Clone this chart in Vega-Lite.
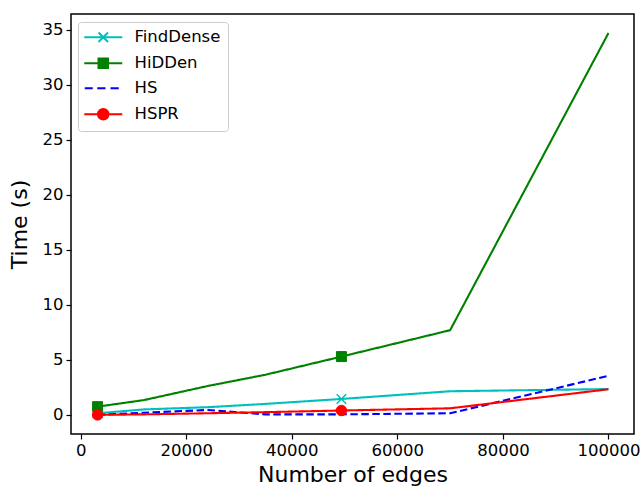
{
  "$schema": "https://vega.github.io/schema/vega-lite/v6.json",
  "width": 563,
  "height": 420,
  "autosize": "none",
  "padding": {"left": 71, "top": 14, "right": 10, "bottom": 55},
  "background": "white",
  "config": {
    "font": "DejaVu Sans",
    "view": {"stroke": "black", "strokeWidth": 1.5},
    "axis": {
      "domain": false,
      "grid": false,
      "ticks": true,
      "tickColor": "black",
      "tickSize": 5,
      "tickWidth": 1.2,
      "labelColor": "black",
      "labelFont": "DejaVu Sans",
      "labelFontSize": 16.5,
      "labelPadding": 3,
      "titleFont": "DejaVu Sans",
      "titleFontSize": 22,
      "titleFontWeight": "normal",
      "titleColor": "black"
    },
    "legend": {
      "orient": "none",
      "legendX": 7,
      "legendY": 8,
      "title": null,
      "labelFont": "DejaVu Sans",
      "labelFontSize": 16.5,
      "labelColor": "black",
      "labelOffset": 23,
      "symbolOffset": 10,
      "symbolSize": 100,
      "symbolStrokeWidth": 2,
      "symbolOpacity": 1,
      "fillColor": "white",
      "strokeColor": "#cccccc",
      "cornerRadius": 3,
      "padding": 7,
      "rowPadding": 8
    }
  },
  "datasets": {
    "times": [
      {"series": "FindDense", "edges": 3200, "time": 0.15},
      {"series": "FindDense", "edges": 12000, "time": 0.5},
      {"series": "FindDense", "edges": 24000, "time": 0.7},
      {"series": "FindDense", "edges": 35000, "time": 1.0},
      {"series": "FindDense", "edges": 49400, "time": 1.45},
      {"series": "FindDense", "edges": 70000, "time": 2.15},
      {"series": "FindDense", "edges": 100000, "time": 2.35},
      {"series": "HiDDen", "edges": 3200, "time": 0.75},
      {"series": "HiDDen", "edges": 12000, "time": 1.35},
      {"series": "HiDDen", "edges": 24000, "time": 2.62},
      {"series": "HiDDen", "edges": 35000, "time": 3.65},
      {"series": "HiDDen", "edges": 49400, "time": 5.3},
      {"series": "HiDDen", "edges": 70000, "time": 7.7},
      {"series": "HiDDen", "edges": 100000, "time": 34.7},
      {"series": "HS", "edges": 3200, "time": 0.0},
      {"series": "HS", "edges": 12000, "time": 0.2},
      {"series": "HS", "edges": 24000, "time": 0.45},
      {"series": "HS", "edges": 35000, "time": 0.05},
      {"series": "HS", "edges": 49400, "time": 0.05},
      {"series": "HS", "edges": 70000, "time": 0.15},
      {"series": "HS", "edges": 100000, "time": 3.55},
      {"series": "HSPR", "edges": 3200, "time": 0.0},
      {"series": "HSPR", "edges": 12000, "time": 0.05},
      {"series": "HSPR", "edges": 24000, "time": 0.15},
      {"series": "HSPR", "edges": 35000, "time": 0.25},
      {"series": "HSPR", "edges": 49400, "time": 0.4},
      {"series": "HSPR", "edges": 70000, "time": 0.6},
      {"series": "HSPR", "edges": 100000, "time": 2.33}
    ]
  },
  "data": {"name": "times"},
  "encoding": {
    "x": {
      "field": "edges",
      "type": "quantitative",
      "title": "Number of edges",
      "scale": {"domain": [-1840, 104840], "nice": false, "zero": false},
      "axis": {"values": [0, 20000, 40000, 60000, 80000, 100000], "format": "d", "titlePadding": 6}
    },
    "y": {
      "field": "time",
      "type": "quantitative",
      "title": "Time (s)",
      "scale": {"domain": [-1.735, 36.435], "nice": false, "zero": false},
      "axis": {"values": [0, 5, 10, 15, 20, 25, 30, 35], "titlePadding": 11}
    }
  },
  "resolve": {"scale": {"fill": "independent", "stroke": "independent"}, "legend": {"fill": "independent", "stroke": "independent", "shape": "independent"}},
  "layer": [
    {
      "mark": {"type": "line", "strokeWidth": 2.1, "strokeJoin": "round"},
      "encoding": {
        "color": {
          "field": "series",
          "type": "nominal",
          "scale": {"domain": ["FindDense", "HiDDen", "HS", "HSPR"], "range": ["#00bfbf", "#008000", "#0000ff", "#ff0000"]},
          "legend": null
        },
        "strokeDash": {
          "field": "series",
          "type": "nominal",
          "scale": {"domain": ["FindDense", "HiDDen", "HS", "HSPR"], "range": [[1, 0], [1, 0], [7.5, 3.5], [1, 0]]},
          "legend": null
        }
      }
    },
    {
      "transform": [{"filter": "datum.series == 'FindDense' && (datum.edges == 3200 || datum.edges == 49400)"}],
      "mark": {"type": "point", "shape": "M-1,-1L1,1M-1,1L1,-1", "size": 90, "strokeWidth": 1.6, "opacity": 1},
      "encoding": {
        "fill": {"field": "series", "type": "nominal", "scale": {"domain": ["FindDense", "HiDDen", "HS", "HSPR"], "range": ["#00bfbf", "#008000", "#0000ff", "#ff0000"]}, "legend": null},
        "stroke": {"field": "series", "type": "nominal", "scale": {"domain": ["FindDense", "HiDDen", "HS", "HSPR"], "range": ["#00bfbf", "#008000", "#0000ff", "#ff0000"]}, "legend": null}
      }
    },
    {
      "transform": [{"filter": "datum.series == 'HiDDen' && (datum.edges == 3200 || datum.edges == 49400)"}],
      "mark": {"type": "point", "shape": "square", "size": 100, "strokeWidth": 1, "opacity": 1},
      "encoding": {
        "fill": {"field": "series", "type": "nominal", "scale": {"domain": ["FindDense", "HiDDen", "HS", "HSPR"], "range": ["#00bfbf", "#008000", "#0000ff", "#ff0000"]}, "legend": null},
        "stroke": {"field": "series", "type": "nominal", "scale": {"domain": ["FindDense", "HiDDen", "HS", "HSPR"], "range": ["#00bfbf", "#008000", "#0000ff", "#ff0000"]}, "legend": null}
      }
    },
    {
      "transform": [{"filter": "datum.series == 'HSPR' && (datum.edges == 3200 || datum.edges == 49400)"}],
      "mark": {"type": "point", "shape": "circle", "size": 110, "strokeWidth": 1, "opacity": 1},
      "encoding": {
        "fill": {"field": "series", "type": "nominal", "scale": {"domain": ["FindDense", "HiDDen", "HS", "HSPR"], "range": ["#00bfbf", "#008000", "#0000ff", "#ff0000"]}, "legend": null},
        "stroke": {"field": "series", "type": "nominal", "scale": {"domain": ["FindDense", "HiDDen", "HS", "HSPR"], "range": ["#00bfbf", "#008000", "#0000ff", "#ff0000"]}, "legend": null}
      }
    },
    {
      "mark": {"type": "point", "size": 100, "strokeWidth": 2, "opacity": 0},
      "encoding": {
        "fill": {"field": "series", "type": "nominal", "scale": {"domain": ["FindDense", "HiDDen", "HS", "HSPR"], "range": ["#00bfbf", "#008000", "#0000ff", "#ff0000"]}},
        "stroke": {"field": "series", "type": "nominal", "scale": {"domain": ["FindDense", "HiDDen", "HS", "HSPR"], "range": ["#00bfbf", "#008000", "#0000ff", "#ff0000"]}},
        "shape": {
          "field": "series",
          "type": "nominal",
          "scale": {
            "domain": ["FindDense", "HiDDen", "HS", "HSPR"],
            "range": [
              "M-3.8,0H3.8M-0.95,-0.95L0.95,0.95M-0.95,0.95L0.95,-0.95",
              "M-3.8,0H3.8M-0.95,-0.95H0.95V0.95H-0.95Z",
              "M-3.7,0H-2.1M-1.2,0H0.45M1.45,0H3.1",
              "M-3.8,0H3.8M1.05,0A1.05,1.05 0 1,1 -1.05,0A1.05,1.05 0 1,1 1.05,0Z"
            ]
          }
        }
      }
    }
  ]
}
